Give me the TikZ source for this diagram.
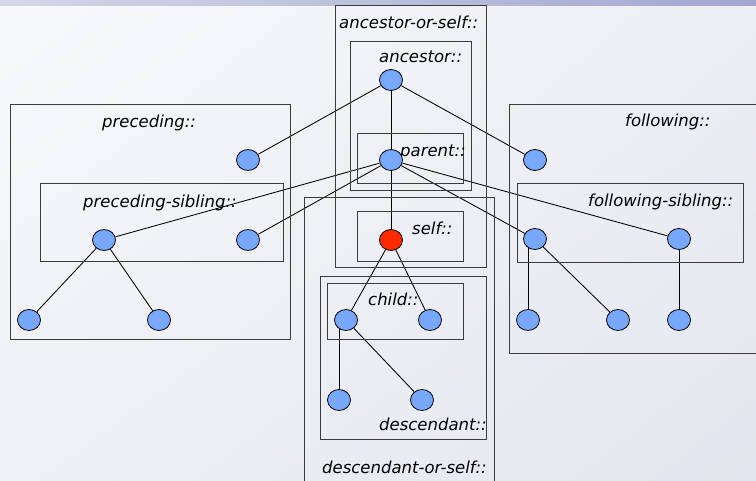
\documentclass[tikz,border=0pt]{standalone}
\usepackage{fontspec}
\setmainfont{DejaVu Sans}
\usetikzlibrary{shapes.geometric,shadings}

% layers: page background, connectors, then boxes and nodes on top
\pgfdeclarelayer{bg}
\pgfdeclarelayer{edges}
\pgfsetlayers{bg,edges,main}

\definecolor{bgUL}{HTML}{F8F9FB}
\definecolor{bgUR}{HTML}{ECEEF3}
\definecolor{bgLL}{HTML}{EEF0F4}
\definecolor{bgLR}{HTML}{E3E6EE}
\definecolor{barL}{HTML}{D4D7E6}
\definecolor{barR}{HTML}{A3A6D3}
\definecolor{boxline}{HTML}{3C3C3C}
\definecolor{nodeblue}{HTML}{78A8FC}
\definecolor{selfred}{HTML}{FF2A00}

\begin{document}
\begin{tikzpicture}[x=1pt,y=-1pt,
  axisbox/.style={draw=boxline, line width=1pt, inner sep=0pt, anchor=north west},
  nd/.style={ellipse, draw=black, line width=0.8pt, fill=nodeblue,
             minimum width=23pt, minimum height=21pt, inner sep=0pt},
  ctx/.style={nd, fill=selfred},
  lbl/.style={font=\fontsize{16.5}{18}\selectfont\itshape, anchor=base west,
              inner sep=0pt, text=black},
  edge/.style={line width=0.85pt, draw=black}]

\useasboundingbox (0,0) rectangle (756,481);

\begin{pgfonlayer}{bg}
  \shade[upper left=bgUL, upper right=bgUR, lower left=bgLL, lower right=bgLR]
    (0,0) rectangle (756,481);
  \shade[left color=barL, right color=barR] (0,0) rectangle (756,6);
\end{pgfonlayer}

% axis boxes
\node[axisbox, minimum width=151pt, minimum height=262pt] (aosBox)   at (335,5)   {};
\node[axisbox, minimum width=121pt, minimum height=149pt] (ancBox)   at (350,41)  {};
\node[axisbox, minimum width=106pt, minimum height=50pt]  (parBox)   at (357,133) {};
\node[axisbox, minimum width=106pt, minimum height=50pt]  (selfBox)  at (357,211) {};
\node[axisbox, minimum width=190pt, minimum height=300pt] (dosBox)   at (304,197) {};
\node[axisbox, minimum width=166pt, minimum height=163pt] (descBox)  at (320,276) {};
\node[axisbox, minimum width=136pt, minimum height=56pt]  (childBox) at (327,283) {};
\node[axisbox, minimum width=280pt, minimum height=235pt] (precBox)  at (10,104)  {};
\node[axisbox, minimum width=243pt, minimum height=78pt]  (psibBox)  at (40,183)  {};
\node[axisbox, minimum width=260pt, minimum height=249pt] (follBox)  at (509,104) {};
\node[axisbox, minimum width=226pt, minimum height=79pt]  (fsibBox)  at (517,183) {};

% axis names
\node[lbl] (aosLbl)   at (339,29)  {ancestor-or-self::};
\node[lbl] (ancLbl)   at (379,63)  {ancestor::};
\node[lbl] (parLbl)   at (400,157) {parent::};
\node[lbl] (selfLbl)  at (412,235) {self::};
\node[lbl] (childLbl) at (368,306) {child::};
\node[lbl] (descLbl)  at (379,431) {descendant::};
\node[lbl] (dosLbl)   at (322,473) {descendant-or-self::};
\node[lbl] (precLbl)  at (102,128) {preceding::};
\node[lbl] (psibLbl)  at (83,208)  {preceding-sibling::};
\node[lbl] (follLbl)  at (625,127) {following::};
\node[lbl] (fsibLbl)  at (588,207) {following-sibling::};

% tree nodes
\node[nd]  (anc)  at (391,80)  {};
\node[nd]  (par)  at (391,160) {};
\node[ctx] (self) at (391,240) {};
\node[nd]  (c1)   at (346,320) {};
\node[nd]  (c2)   at (430,320) {};
\node[nd]  (d1)   at (339,400) {};
\node[nd]  (d2)   at (422,400) {};
\node[nd]  (p1)   at (248,160) {};
\node[nd]  (ps1)  at (104,240) {};
\node[nd]  (ps2)  at (248,240) {};
\node[nd]  (pd1)  at (29,320)  {};
\node[nd]  (pd2)  at (159,320) {};
\node[nd]  (f1)   at (535,160) {};
\node[nd]  (fs1)  at (535,239) {};
\node[nd]  (fs2)  at (679,239) {};
\node[nd]  (fd1)  at (528,320) {};
\node[nd]  (fd2)  at (618,320) {};
\node[nd]  (fd3)  at (679,320) {};

% connectors
\begin{pgfonlayer}{edges}
  \draw[edge] (anc) -- (p1);
  \draw[edge] (anc) -- (par);
  \draw[edge] (anc) -- (f1);
  \draw[edge] (par) -- (ps1);
  \draw[edge] (par) -- (ps2);
  \draw[edge] (par) -- (self);
  \draw[edge] (par) -- (fs1);
  \draw[edge] (par) -- (fs2);
  \draw[edge] (self) -- (c1);
  \draw[edge] (self) -- (c2);
  \draw[edge] (d1) -- (d1 |- c1.center);
  \draw[edge] (c1) -- (d2);
  \draw[edge] (ps1) -- (pd1);
  \draw[edge] (ps1) -- (pd2);
  \draw[edge] (fd1) -- (fd1 |- fs1.center);
  \draw[edge] (fs1) -- (fd2);
  \draw[edge] (fs2) -- (fd3);
\end{pgfonlayer}
\end{tikzpicture}
\end{document}
